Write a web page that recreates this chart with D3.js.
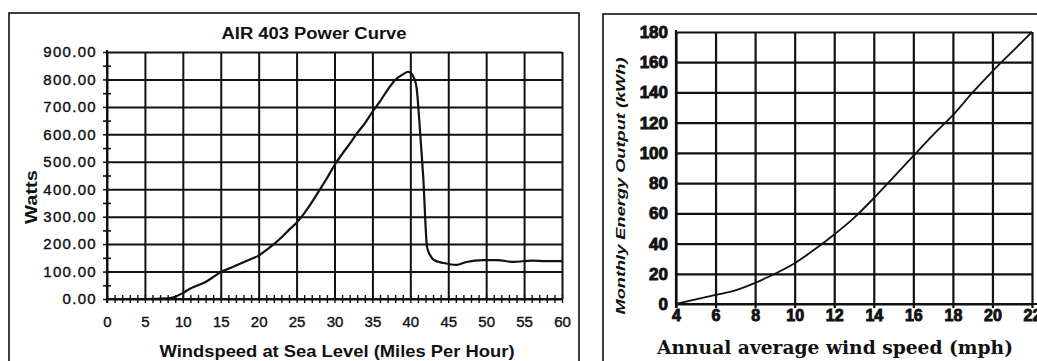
<!DOCTYPE html>
<html>
<head>
<meta charset="utf-8">
<script src="https://cdn.jsdelivr.net/npm/d3@7"></script>
<style>
  body { margin: 0; background: #fff; }
  svg { display: block; }
</style>
</head>
<body>
<div id="chart"></div>
<script>
// Left chart: AIR 403 power curve (mph -> watts)
const powerMph = [0, 5, 8, 9, 10, 11, 12, 13, 14, 15, 16, 17, 18, 19, 20, 21, 22, 23, 24, 25, 26, 27, 28, 29, 30, 31, 32, 33, 34, 35, 36, 37, 38, 39, 39.7, 40.3, 40.8, 41.3, 41.7, 42.2, 42.6, 43.1, 44.4, 46.1, 47.4, 49.6, 51.5, 53.6, 56, 58, 60];
const powerWatts = [0, 0, 2, 8, 22, 38, 50, 62, 80, 98, 110, 122, 134, 146, 158, 178, 200, 224, 252, 278, 312, 352, 396, 440, 488, 528, 565, 605, 640, 682, 720, 762, 798, 818, 828, 815, 774, 604, 445, 190, 160, 142, 131, 124, 135, 142, 142, 135, 140, 138, 138];
const powerXTicks = [0, 5, 10, 15, 20, 25, 30, 35, 40, 45, 50, 55, 60];
const powerYTicks = [0, 100, 200, 300, 400, 500, 600, 700, 800, 900];

// Right chart: monthly energy output (annual avg mph -> kWh)
const energyMph = [4, 5, 6, 7, 8, 9, 10, 11, 12, 13, 14, 15, 16, 17, 18, 19, 20, 21, 22];
const energyKwh = [0, 3, 6, 9, 14, 20, 27, 36, 46, 57, 70, 84, 98, 112, 125, 140, 154, 167, 180];
const energyXTicks = [4, 6, 8, 10, 12, 14, 16, 18, 20, 22];
const energyYTicks = [0, 20, 40, 60, 80, 100, 120, 140, 160, 180];

const width = 1037, height = 361;
const ink = "#111";

const svg = d3.select("#chart")
    .append("svg")
    .attr("width", width)
    .attr("height", height)
    .attr("viewBox", "0 0 " + width + " " + height);

svg.append("rect").attr("width", width).attr("height", height).attr("fill", "#fff");

// panel borders
svg.append("rect")
    .attr("x", 9).attr("y", 13).attr("width", 570).attr("height", 400)
    .attr("fill", "none").attr("stroke", ink).attr("stroke-width", 1.6);
svg.append("rect")
    .attr("x", 603).attr("y", 14).attr("width", 500).attr("height", 400)
    .attr("fill", "none").attr("stroke", ink).attr("stroke-width", 1.6);

// ---------- left chart ----------
const L = {left: 107, top: 52, w: 455, h: 247};
const gL = svg.append("g").attr("transform", "translate(" + L.left + "," + L.top + ")");

const xL = d3.scaleLinear().domain([0, 60]).range([0, L.w]);
const yL = d3.scaleLinear().domain([0, 900]).range([L.h, 0]);

const sansL = "'Liberation Sans', Arial, sans-serif";

// horizontal grid + labels
gL.append("g")
    .call(d3.axisLeft(yL).tickValues(powerYTicks).tickSize(-L.w).tickPadding(10)
        .tickFormat(d3.format(".2f")))
    .call(g => g.select(".domain").remove())
    .call(g => g.selectAll(".tick line").attr("stroke", ink).attr("stroke-width", 2))
    .call(g => g.selectAll(".tick text")
        .attr("fill", ink).style("font-family", sansL).style("font-size", "15px")
        .style("letter-spacing", "1.3px").attr("stroke", ink).attr("stroke-width", 0.4));
// little left stubs of the gridlines
gL.append("g")
    .call(d3.axisLeft(yL).tickValues(powerYTicks).tickSize(4).tickFormat(""))
    .call(g => g.select(".domain").remove())
    .call(g => g.selectAll(".tick line").attr("stroke", ink).attr("stroke-width", 1.5));

// vertical grid
gL.append("g")
    .attr("transform", "translate(0," + L.h + ")")
    .call(d3.axisBottom(xL).tickValues(powerXTicks).tickSize(-L.h).tickPadding(17))
    .call(g => g.select(".domain").remove())
    .call(g => g.selectAll(".tick line").attr("stroke", ink).attr("stroke-width", 2))
    .call(g => g.selectAll(".tick text")
        .attr("fill", ink).style("font-family", sansL).style("font-size", "15px")
        .attr("stroke", ink).attr("stroke-width", 0.4));

// minor y ticks (crosses) every 50
const yMinor = d3.range(50, 900, 100);
[d3.axisLeft, d3.axisRight].forEach(ax => {
    gL.append("g")
        .call(ax(yL).tickValues(yMinor).tickSize(4).tickFormat(""))
        .call(g => g.select(".domain").remove())
        .call(g => g.selectAll(".tick line").attr("stroke", ink).attr("stroke-width", 1.6));
});
// minor x ticks (crosses) every 1 mph
const xMinor = d3.range(0, 61, 1);
[d3.axisBottom, d3.axisTop].forEach(ax => {
    gL.append("g")
        .attr("transform", "translate(0," + L.h + ")")
        .call(ax(xL).tickValues(xMinor).tickSize(4).tickFormat(""))
        .call(g => g.select(".domain").remove())
        .call(g => g.selectAll(".tick line").attr("stroke", ink).attr("stroke-width", 1.4));
});

// axis lines
gL.append("line").attr("x1", 0).attr("x2", 0).attr("y1", -2).attr("y2", L.h + 4)
    .attr("stroke", ink).attr("stroke-width", 2);
gL.append("line").attr("x1", 0).attr("x2", L.w).attr("y1", L.h).attr("y2", L.h)
    .attr("stroke", ink).attr("stroke-width", 2);

// curve
gL.append("path")
    .datum(powerMph.map((m, i) => [m, powerWatts[i]]))
    .attr("fill", "none").attr("stroke", ink).attr("stroke-width", 2.2)
    .attr("d", d3.line().x(d => xL(d[0])).y(d => yL(d[1])).curve(d3.curveMonotoneX));

// titles
svg.append("text")
    .attr("x", 314).attr("y", 39).attr("text-anchor", "middle")
    .attr("textLength", 185).attr("lengthAdjust", "spacingAndGlyphs")
    .style("font-family", sansL).style("font-size", "16px").style("font-weight", "bold")
    .attr("fill", ink).text("AIR 403 Power Curve");
svg.append("text")
    .attr("x", 337).attr("y", 357).attr("text-anchor", "middle")
    .attr("textLength", 355).attr("lengthAdjust", "spacingAndGlyphs")
    .style("font-family", sansL).style("font-size", "17px").style("font-weight", "bold")
    .attr("fill", ink).text("Windspeed at Sea Level (Miles Per Hour)");
svg.append("text")
    .attr("transform", "translate(37,197) rotate(-90)").attr("text-anchor", "middle")
    .attr("textLength", 54).attr("lengthAdjust", "spacingAndGlyphs")
    .style("font-family", sansL).style("font-size", "17px").style("font-weight", "bold")
    .attr("fill", ink).text("Watts");

// ---------- right chart ----------
const R = {left: 676, top: 32, w: 356, h: 272};
const gR = svg.append("g").attr("transform", "translate(" + R.left + "," + R.top + ")");

const xR = d3.scaleLinear().domain([4, 22]).range([0, R.w]);
const yR = d3.scaleLinear().domain([0, 180]).range([R.h, 0]);

const sansR = "'Liberation Sans', Arial, sans-serif";

gR.append("g")
    .call(d3.axisLeft(yR).tickValues(energyYTicks).tickSize(-R.w).tickPadding(8))
    .call(g => g.select(".domain").remove())
    .call(g => g.selectAll(".tick line").attr("stroke", ink).attr("stroke-width", 2.2))
    .call(g => g.selectAll(".tick text")
        .attr("fill", ink).style("font-family", sansR).style("font-size", "17px")
        .style("font-weight", "bold").attr("stroke", ink).attr("stroke-width", 0.9));

gR.append("g")
    .attr("transform", "translate(0," + R.h + ")")
    .call(d3.axisBottom(xR).tickValues(energyXTicks).tickSize(-R.h - 4).tickPadding(6))
    .call(g => g.select(".domain").remove())
    .call(g => g.selectAll(".tick line").attr("stroke", ink).attr("stroke-width", 2.2)
        .attr("transform", "translate(0,4)"))
    .call(g => g.selectAll(".tick text")
        .attr("fill", ink).style("font-family", sansR).style("font-size", "16px")
        .style("font-weight", "bold").attr("stroke", ink).attr("stroke-width", 0.9));

gR.append("line").attr("x1", 0).attr("x2", 0).attr("y1", -2).attr("y2", R.h + 4)
    .attr("stroke", ink).attr("stroke-width", 2.2);
gR.append("line").attr("x1", 0).attr("x2", R.w + 6).attr("y1", R.h).attr("y2", R.h)
    .attr("stroke", ink).attr("stroke-width", 2.2);

gR.append("path")
    .datum(energyMph.map((m, i) => [m, energyKwh[i]]))
    .attr("fill", "none").attr("stroke", ink).attr("stroke-width", 1.8)
    .attr("d", d3.line().x(d => xR(d[0])).y(d => yR(d[1])).curve(d3.curveMonotoneX));

svg.append("text")
    .attr("transform", "translate(625,186) rotate(-90)").attr("text-anchor", "middle")
    .attr("textLength", 257).attr("lengthAdjust", "spacingAndGlyphs")
    .style("font-family", sansR).style("font-size", "13px").style("font-weight", "bold")
    .style("font-style", "italic").attr("fill", ink).text("Monthly Energy Output (kWh)");
svg.append("text")
    .attr("x", 835).attr("y", 354).attr("text-anchor", "middle")
    .attr("textLength", 356).attr("lengthAdjust", "spacingAndGlyphs")
    .style("font-family", "'DejaVu Serif', serif").style("font-size", "18px").style("font-weight", "bold")
    .attr("fill", ink).text("Annual average wind speed (mph)");
</script>
</body>
</html>
